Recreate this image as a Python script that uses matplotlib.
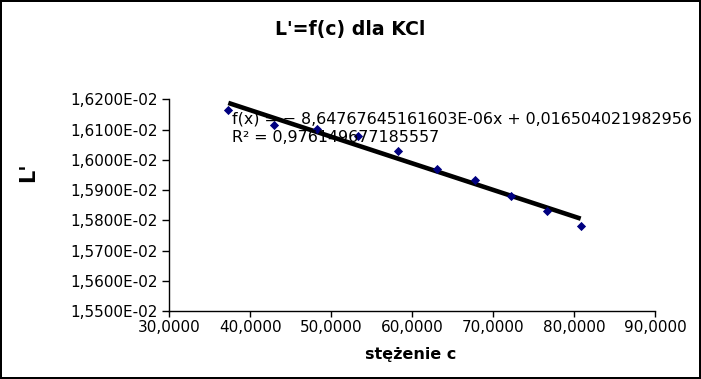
import numpy as np
import matplotlib
matplotlib.use("Agg")
import matplotlib.pyplot as plt
from matplotlib.ticker import FuncFormatter, MultipleLocator

# Data
c_values = [37.29, 42.93, 48.28, 53.35, 58.29, 63.11, 67.76, 72.21, 76.62, 80.82]
L_values = [0.016164, 0.016114, 0.016101, 0.016079, 0.016028,
            0.015968, 0.015932, 0.015881, 0.015830, 0.015781]

title = "L'=f(c) dla KCl"
xlabel = "stężenie c"
ylabel = "L'"
eq_line1 = "f(x) = − 8,64767645161603E-06x + 0,016504021982956"
eq_line2 = "R² = 0,976149677185557"

plt.rcParams['font.family'] = ['DejaVu Sans']

fig = plt.figure(figsize=(7.01, 3.79), dpi=100, edgecolor='black', linewidth=1.5)
ax = fig.add_axes([169.3/701, 1-311/379, (655-169.3)/701, (311-99.3)/379])

x = np.array(c_values)
y = np.array(L_values)
ax.scatter(x, y, marker='D', s=22, color='#000080', zorder=3, linewidths=0)

# linear trend line
k, b = np.polyfit(x, y, 1)
xs = np.array([x.min(), x.max()])
ax.plot(xs, k*xs + b, color='black', linewidth=3.3, zorder=2, solid_capstyle='butt')

ax.set_xlim(30, 90)
ax.set_ylim(0.0155, 0.0162)
ax.xaxis.set_major_locator(MultipleLocator(10))
ax.yaxis.set_major_locator(MultipleLocator(0.0001))

def xfmt(v, pos):
    return f"{v:.4f}".replace('.', ',')

def yfmt(v, pos):
    s = f"{v:.4E}"
    return s.replace('.', ',')

ax.xaxis.set_major_formatter(FuncFormatter(xfmt))
ax.yaxis.set_major_formatter(FuncFormatter(yfmt))

for sp in ['top', 'right']:
    ax.spines[sp].set_visible(False)
for sp in ['left', 'bottom']:
    ax.spines[sp].set_linewidth(1.0)
ax.tick_params(axis='y', direction='out', length=5, width=1.0, labelsize=11, pad=3.5)
ax.tick_params(axis='x', direction='out', length=4, width=1.0, labelsize=11, pad=2.5)

fig.text(350.5/701, 1-29/379, title, ha='center', va='center', fontsize=13.6, fontweight='bold')
fig.text(411/701, 1-354/379, xlabel, ha='center', va='center', fontsize=11.5, fontweight='bold')
fig.text(28/701, 1-172/379, ylabel, ha='center', va='center', fontsize=15, fontweight='bold', rotation=90)

fig.text(232/701, 1-119/379, eq_line1, ha='left', va='center', fontsize=11.4)
fig.text(232/701, 1-137/379, eq_line2, ha='left', va='center', fontsize=11.4)

fig.savefig("out.png", dpi=100, edgecolor=fig.get_edgecolor())
